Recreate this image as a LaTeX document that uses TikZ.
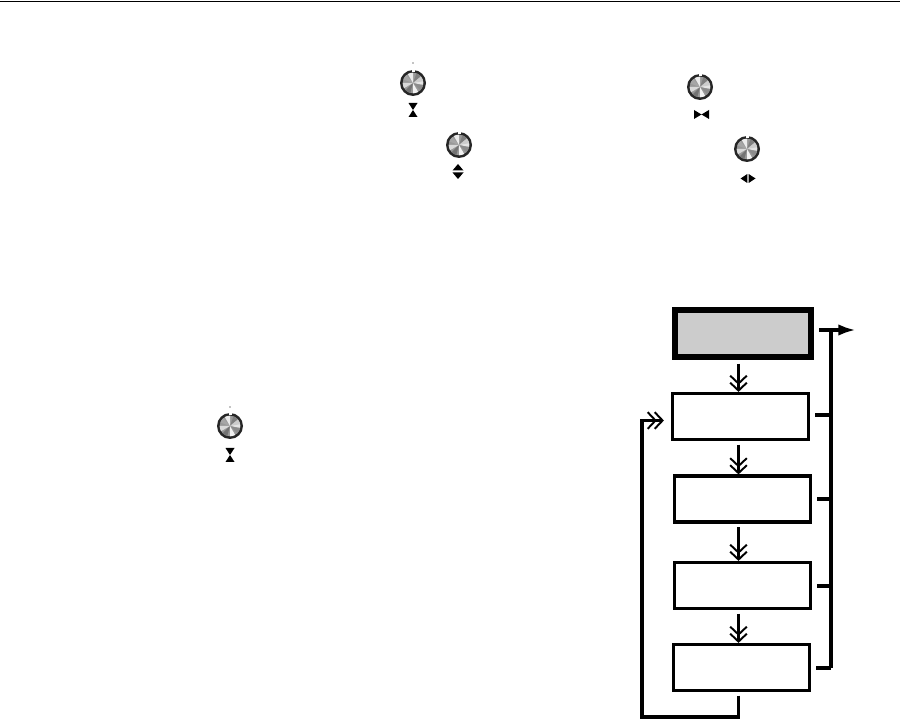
\documentclass[tikz,border=0pt]{standalone}
\usetikzlibrary{arrows.meta}
\tikzset{
    menu box/.style={draw=black, line width=1.8pt, minimum width=2.72cm, minimum height=0.92cm, inner sep=0pt},
    start box/.style={draw=black, fill=black!20, line width=3.4pt, minimum width=2.72cm, minimum height=0.93cm, inner sep=0pt},
    step arrow/.style={-{Straight Barb[length=4.5pt,width=9.5pt,line width=1.1pt,sep=-1.8pt] Straight Barb[length=4.5pt,width=9.5pt,line width=1.1pt]}, line width=2pt, black, shorten <=2pt},
    bus line/.style={line width=2pt, black},
}
% knob: dark ring with a notch at the top and a shaded disc
\newcommand{\knob}[2]{
    \begin{scope}[shift={(#1,#2)}]
        \fill[black!85] (0,0) circle (13);
        \fill[black!40] (0,0) circle (10.3);
        \foreach \a/\s in {-20/10, 15/45, 60/5, 105/55, 150/15, 200/35, 240/8, 290/50, 320/20} {
            \fill[black!\s] (0,0) -- (\a:10.3) arc (\a:\a+30:10.3) -- cycle;
        }
        \fill[white] (-1.5,-13.5) rectangle (1.5,-10.5);
    \end{scope}
}
\newcommand{\hourglass}[2]{\fill[black] (#1-4.5,#2) -- (#1+4.5,#2) -- (#1,#2+7) -- (#1+4.5,#2+14) -- (#1-4.5,#2+14) -- (#1,#2+7) -- cycle;}
\newcommand{\updiamond}[2]{\fill[black] (#1-5.5,#2+6.5) -- (#1,#2) -- (#1+5.5,#2+6.5) -- cycle; \fill[black] (#1-5.5,#2+8.5) -- (#1,#2+15) -- (#1+5.5,#2+8.5) -- cycle;}
\newcommand{\sidetie}[2]{\fill[black] (#1-7.5,#2) -- (#1,#2+4.5) -- (#1+7.5,#2) -- (#1+7.5,#2+9) -- (#1,#2+4.5) -- (#1-7.5,#2+9) -- cycle;}
\newcommand{\sidediamond}[2]{\fill[black] (#1-0.7,#2-1) -- (#1-7.5,#2+3.5) -- (#1-0.7,#2+8) -- cycle; \fill[black] (#1+0.7,#2-1) -- (#1+7.5,#2+3.5) -- (#1+0.7,#2+8) -- cycle;}

\begin{document}
\begin{tikzpicture}[x=0.02cm, y=-0.02cm]
    \useasboundingbox (0,0) rectangle (900,719);

    % Rule along the top of the page
    \draw[line width=0.9pt] (0,1.5) -- (900,1.5);

    % Knobs with their direction marks
    \knob{413}{83}
    \fill (413,63) circle (0.6);
    \hourglass{413}{103}
    \knob{459}{145}
    \updiamond{458}{164}
    \knob{700}{87}
    \sidetie{701.5}{110}
    \knob{747}{149}
    \sidediamond{748}{175}
    \knob{230}{426}
    \fill (230,407) circle (0.6);
    \hourglass{230}{448}

    % Menu boxes
    \node[start box] (start) at (743,333.5) {};
    \node[menu box] (first) at (740.5,416.5) {};
    \node[menu box] (second) at (742.5,499) {};
    \node[menu box] (third) at (742.5,585.5) {};
    \node[menu box] (fourth) at (741.5,667.5) {};

    % Steps down the column
    \coordinate (start out) at (738.5,360);
    \draw[step arrow] (start out) -- (start out |- first.north);
    \draw[step arrow] (first.south -| start out) -- (second.north -| start out);
    \draw[step arrow] (second.south -| start out) -- (third.north -| start out);
    \draw[step arrow] (third.south -| start out) -- (fourth.north -| start out);

    % Return path to the first box
    \coordinate (return low) at (642,717);
    \coordinate (return high) at (642,420.5);
    \draw[bus line, shorten <=2pt] (fourth.south -| start out) -- (return low -| start out) -- (return low) -- (return high) -- (650,420.5);
    \draw[step arrow, shorten <=0pt, shorten >=4pt] (return high) -- (return high -| first.west);

    % Exit bus on the right
    \coordinate (bus top) at (831,330);
    \coordinate (bus bottom) at (831,668);
    \draw[bus line] (bus top) -- (bus bottom);
    \draw[bus line, -{Latex[length=10pt,width=6.5pt]}] (819,330) -- (856,330);
    \draw[bus line, shorten <=3pt] (first.east |- 831,415) -- (831,415);
    \draw[bus line, shorten <=3pt] (second.east |- 831,499) -- (831,499);
    \draw[bus line, shorten <=3pt] (third.east |- 831,586) -- (831,586);
    \draw[bus line, shorten <=3pt] (fourth.east |- bus bottom) -- (bus bottom);

\end{tikzpicture}
\end{document}
